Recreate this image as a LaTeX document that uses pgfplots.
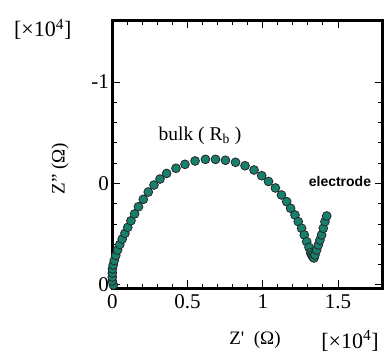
\documentclass[border=0pt]{standalone}
\usepackage{pgfplots}
\pgfplotsset{compat=1.18}
\usepackage{fontspec}
\setmainfont{Liberation Serif}
\newfontfamily\arialfont{Liberation Sans}
\definecolor{teal1}{RGB}{22,128,108}
\pgfplotstableread{
x y
0.007 0.000
0.000 0.039
0.000 0.079
0.000 0.118
0.001 0.158
0.006 0.197
0.013 0.241
0.023 0.291
0.035 0.345
0.050 0.399
0.066 0.453
0.084 0.509
0.103 0.568
0.124 0.633
0.148 0.700
0.174 0.771
0.206 0.844
0.239 0.916
0.277 0.985
0.317 1.044
0.361 1.099
0.423 1.150
0.483 1.189
0.550 1.222
0.619 1.238
0.686 1.238
0.752 1.229
0.819 1.209
0.882 1.175
0.942 1.133
0.993 1.077
1.038 1.020
1.084 0.956
1.124 0.887
1.159 0.821
1.185 0.756
1.214 0.690
1.236 0.624
1.258 0.559
1.276 0.493
1.292 0.427
1.307 0.371
1.318 0.318
1.325 0.296
1.332 0.279
1.340 0.266
1.347 0.296
1.358 0.345
1.369 0.394
1.380 0.443
1.391 0.493
1.402 0.559
1.413 0.624
1.425 0.680
}\nyquist
\begin{document}
\begin{tikzpicture}
\begin{axis}[
  scale only axis,
  width=270.4pt, height=267.5pt,
  xmin=0, xmax=1.797,
  ymin=-0.0296, ymax=2.606,
  xtick={0,0.5,1,1.5}, xticklabels={0,0.5,1,1.5},
  ytick={0,1,2}, yticklabels={0,0,-1},
  minor x tick num=4, minor y tick num=4,
  tick align=inside,
  xtick pos=both, ytick pos=both,
  major tick length=8pt, minor tick length=4.5pt,
  every tick/.style={black, line width=1pt},
  axis line style={line width=3pt},
  tick label style={font=\fontsize{21}{21}\selectfont, black},
  xticklabel style={yshift=-3pt},
  yticklabel style={xshift=0pt},
  clip=false,
]
\addplot[only marks, mark=*, mark size=4.4pt,
  mark options={fill=teal1, draw=black!85, line width=0.8pt}] table[x=x,y=y] {\nyquist};
\coordinate (sw) at (rel axis cs:0,0);
\node[font=\fontsize{19.5}{19.5}\selectfont] at (axis cs:0.583,1.468) {bulk ( R\textsubscript{b} )};
\node[font=\arialfont\bfseries\fontsize{14}{14}\selectfont] at (axis cs:1.513,1.020) {electrode};
\node[font=\fontsize{19}{19}\selectfont, rotate=90] at (axis cs:-0.3475,1.148) {Z" (Ω)};
\node[font=\fontsize{19}{19}\selectfont] at (axis cs:0.948,-0.542) {Z\textquotesingle\ \ (Ω)};
\node[font=\fontsize{22}{22}\selectfont] at (axis cs:-0.4625,2.517) {[×10\textsuperscript{4}]};
\node[font=\fontsize{22}{22}\selectfont] at (axis cs:1.580,-0.552) {[×10\textsuperscript{4}]};
\end{axis}
\pgfresetboundingbox
\path[use as bounding box] (sw) ++(-112.3pt,-68pt) rectangle ++(385pt,356pt);
\end{tikzpicture}
\end{document}
